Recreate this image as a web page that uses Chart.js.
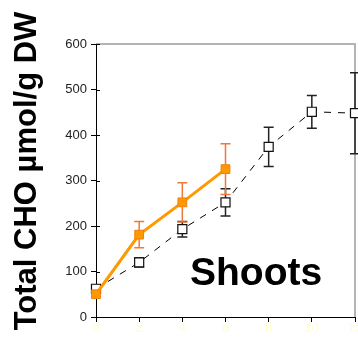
<!DOCTYPE html>
<html>
<head>
<meta charset="utf-8">
<script src="https://cdn.jsdelivr.net/npm/chart.js@4"></script>
<style>
  html, body { margin: 0; padding: 0; background: #fff; }
  #wrap { width: 358px; height: 343px; position: relative; }
</style>
</head>
<body>
<div id="wrap"><canvas id="c" width="358" height="343"></canvas></div>
<script>
// Sampling days (x axis)
const days = [0, 2, 4, 6, 8, 10, 12];
const xTickLabels = ['0', '2', '4', '6', '8', '10', '12'];

// Control series (open squares, dashed line)
const controlMean = [62, 120, 193, 252, 374, 451, 448];
const controlErr  = [8, 10, 17, 30, 43, 36, 89];

// Treated series (orange squares, solid line)
const treatedDays = [0, 2, 4, 6];
const treatedMean = [50, 181, 252, 325];
const treatedErr  = [5, 29, 43, 56];

const yAxisTitle = 'Total CHO µmol/g DW';
const panelLabel = 'Shoots';

const FONT = '"Liberation Sans", Arial, sans-serif';

function toPoints(xs, ys) { return xs.map((x, i) => ({ x: x, y: ys[i] })); }

// Error bars with caps, drawn beneath the lines and markers
const errorBars = {
  id: 'errorBars',
  beforeDatasetsDraw(chart) {
    const ctx = chart.ctx;
    const xs = chart.scales.x, ys = chart.scales.y;
    const sets = [
      { x: days, m: controlMean, e: controlErr, color: '#222222', w: 1.5 },
      { x: treatedDays, m: treatedMean, e: treatedErr, color: '#F07838', w: 1.5 }
    ];
    ctx.save();
    sets.forEach(s => {
      ctx.strokeStyle = s.color;
      ctx.lineWidth = s.w;
      s.x.forEach((d, i) => {
        const px = xs.getPixelForValue(d);
        const top = ys.getPixelForValue(s.m[i] + s.e[i]);
        const bot = ys.getPixelForValue(s.m[i] - s.e[i]);
        ctx.beginPath();
        ctx.moveTo(px, top); ctx.lineTo(px, bot);
        ctx.moveTo(px - 5, top); ctx.lineTo(px + 5, top);
        ctx.moveTo(px - 5, bot); ctx.lineTo(px + 5, bot);
        ctx.stroke();
      });
    });
    ctx.restore();
  }
};

// Frame, inner tick stubs, x tick labels and the text labels
const decorations = {
  id: 'decorations',
  beforeDatasetsDraw(chart) {
    const ctx = chart.ctx;
    const a = chart.chartArea;
    const ys = chart.scales.y;
    const xs = chart.scales.x;
    ctx.save();
    // light grey frame on top and right of the plot area
    ctx.strokeStyle = '#b4b4b4';
    ctx.lineWidth = 2;
    ctx.beginPath();
    ctx.moveTo(a.left, a.top); ctx.lineTo(a.right, a.top); ctx.lineTo(a.right, a.bottom);
    ctx.stroke();
    // tick stubs crossing into the plot on the y axis
    ctx.strokeStyle = '#000';
    ctx.lineWidth = 1;
    ys.ticks.forEach(t => {
      const py = Math.round(ys.getPixelForValue(t.value)) + 0.5;
      ctx.beginPath();
      ctx.moveTo(a.left, py); ctx.lineTo(a.left + 4, py);
      ctx.stroke();
    });
    // pale x tick labels under the axis
    ctx.fillStyle = '#FFFFC8';
    ctx.font = '13px ' + FONT;
    ctx.textAlign = 'center';
    ctx.textBaseline = 'middle';
    days.forEach((d, i) => {
      ctx.fillText(xTickLabels[i], xs.getPixelForValue(d), a.bottom + 11);
    });
    ctx.restore();
  },
  afterDraw(chart) {
    const ctx = chart.ctx;
    ctx.save();
    ctx.fillStyle = '#000';
    // rotated y axis title
    ctx.translate(36, 171);
    ctx.rotate(-Math.PI / 2);
    ctx.font = 'bold 31px ' + FONT;
    ctx.textAlign = 'center';
    ctx.textBaseline = 'alphabetic';
    ctx.fillText(yAxisTitle, 0, 0);
    ctx.restore();
    ctx.save();
    ctx.fillStyle = '#000';
    ctx.font = 'bold 39px ' + FONT;
    ctx.textAlign = 'left';
    ctx.textBaseline = 'alphabetic';
    ctx.fillText(panelLabel, 190, 285);
    ctx.restore();
  }
};

new Chart(document.getElementById('c'), {
  type: 'line',
  data: {
    datasets: [
      {
        label: 'Treated',
        data: toPoints(treatedDays, treatedMean),
        borderColor: '#FF9900',
        borderWidth: 3,
        backgroundColor: '#FF9900',
        pointStyle: 'rect',
        pointRadius: 6.2,
        pointBorderColor: '#F07F10',
        pointBorderWidth: 1,
        pointBackgroundColor: '#FF9900',
        tension: 0,
        clip: false,
        order: 0
      },
      {
        label: 'Control',
        data: toPoints(days, controlMean),
        borderColor: '#000',
        borderWidth: 1,
        borderDash: [7, 7],
        pointStyle: 'rect',
        pointRadius: 6.4,
        pointBorderColor: '#111',
        pointBorderWidth: 1.2,
        pointBackgroundColor: '#fff',
        tension: 0,
        clip: false,
        order: 1
      }
    ]
  },
  options: {
    responsive: false,
    animation: false,
    layout: { autoPadding: false, padding: { top: 44, right: 3, left: 0, bottom: 0 } },
    plugins: { legend: { display: false }, tooltip: { enabled: false } },
    scales: {
      x: {
        type: 'linear',
        min: 0, max: 12,
        afterFit(s) { s.height = 26; },
        afterBuildTicks(s) { s.ticks = days.map(v => ({ value: v })); },
        grid: { drawOnChartArea: false, drawTicks: true, tickLength: 5, color: '#000' },
        border: { color: '#000', width: 1 },
        ticks: { display: false }
      },
      y: {
        min: 0, max: 600,
        afterFit(s) { s.width = 96; },
        grid: { drawOnChartArea: false, drawTicks: true, tickLength: 5, color: '#000' },
        border: { color: '#000', width: 1 },
        ticks: {
          stepSize: 100,
          color: '#222',
          font: { family: FONT, size: 13 },
          padding: 4
        }
      }
    }
  },
  plugins: [decorations, errorBars]
});
</script>
</body>
</html>
